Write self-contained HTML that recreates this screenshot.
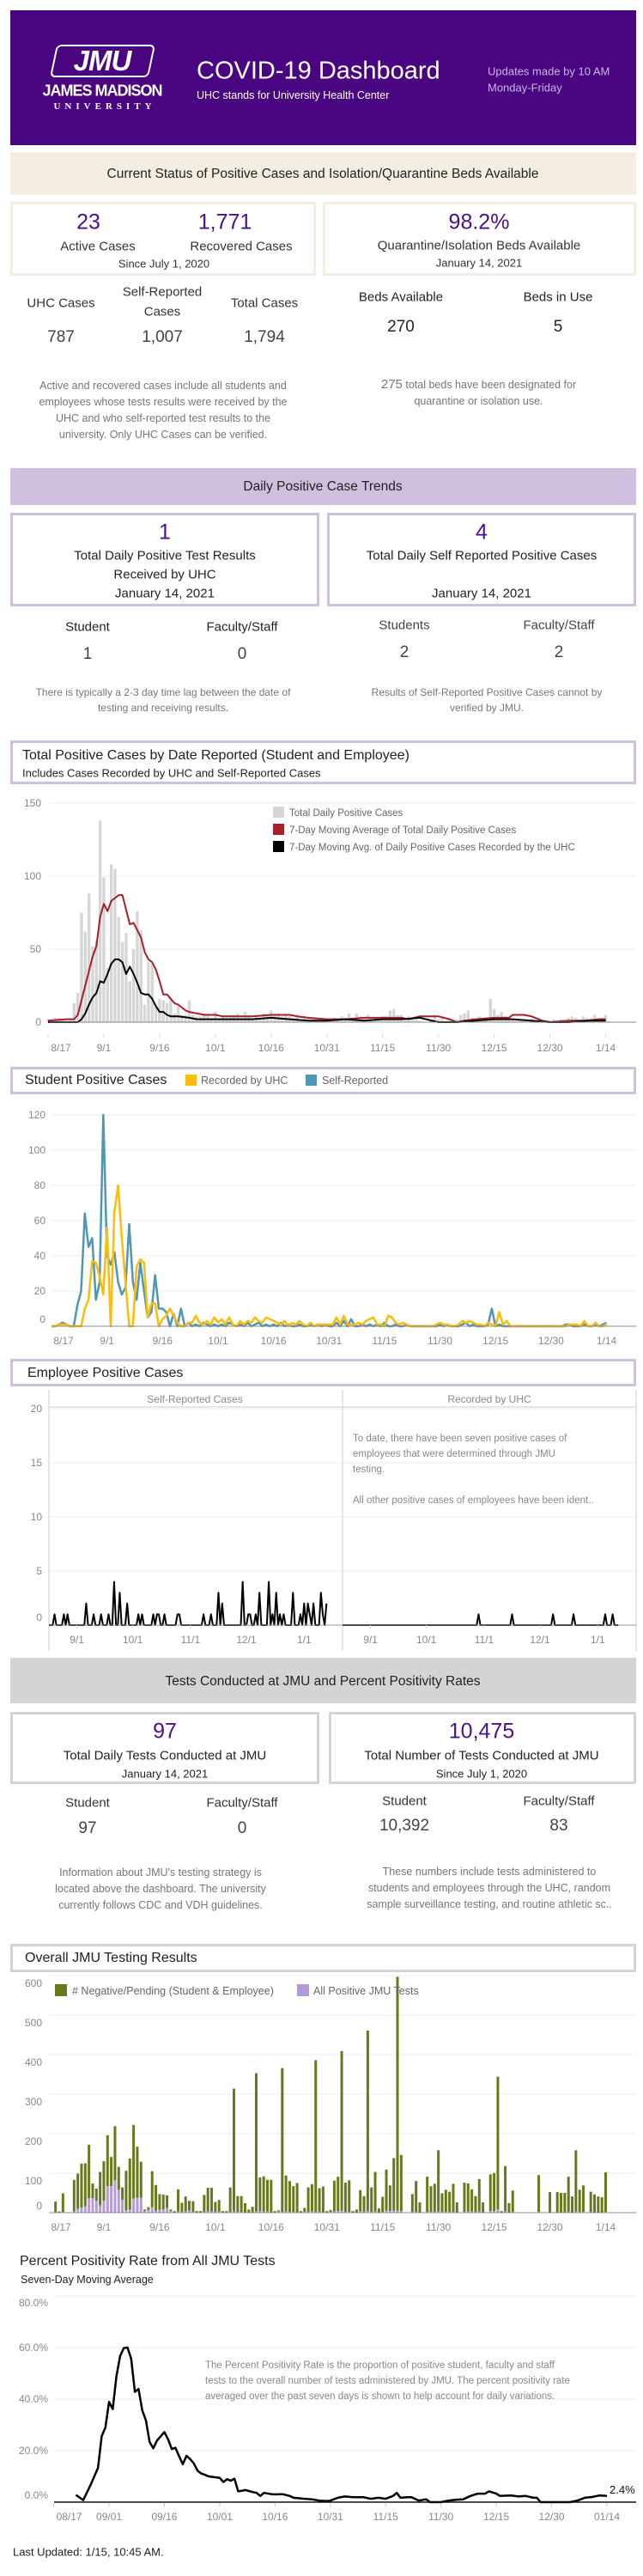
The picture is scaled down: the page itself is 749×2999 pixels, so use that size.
<!DOCTYPE html>
<html><head><meta charset="utf-8">
<style>
*{margin:0;padding:0;box-sizing:border-box}
body{width:749px;height:2999px;position:relative;background:#fff;font-family:"Liberation Sans",sans-serif;color:#333;overflow:hidden}
.c{position:absolute;white-space:nowrap;transform:translate(-50%,-50%)}
.l{position:absolute;white-space:nowrap;transform:translateY(-50%)}
.r{position:absolute;white-space:nowrap;transform:translate(-100%,-50%)}
.box{position:absolute;border:3px solid}
.band{position:absolute;left:12px;width:729px}
.pv{color:#4b0f8c;font-size:25px}
.lab{font-size:15px;color:#333}
.sm{font-size:13px;color:#333}
.val{font-size:19px;color:#444}
.note{font-size:12.5px;color:#777}
.ax{font-size:12px;color:#888}
svg{position:absolute;left:0;overflow:visible}
</style></head><body>

<div style="position:absolute;left:12px;top:12px;width:729px;height:157px;background:#4a0680"></div>
<div style="position:absolute;left:62px;top:52px;width:115px;height:38px;border:2px solid #fff;border-radius:6px;transform:skewX(-12deg)"></div>
<div class="c" style="left:119px;top:71px;color:#fff;font-size:33px;font-weight:bold;font-style:italic;letter-spacing:-1px">JMU</div>
<div class="c" style="left:119px;top:106px;color:#fff;font-size:18px;font-weight:bold;letter-spacing:-1px">JAMES MADISON</div>
<div class="c" style="left:122px;top:124px;color:#fff;font-size:11px;font-family:'Liberation Serif',serif;font-weight:bold;letter-spacing:5px">UNIVERSITY</div>
<div class="l" style="left:229px;top:83px;color:#fff;font-size:29px">COVID-19 Dashboard</div>
<div class="l" style="left:229px;top:111px;color:#fff;font-size:12.5px">UHC stands for University Health Center</div>
<div class="l" style="left:568px;top:83px;color:#c9b5e6;font-size:13px">Updates made by 10 AM</div>
<div class="l" style="left:568px;top:102px;color:#c9b5e6;font-size:13px">Monday-Friday</div>

<div class="band" style="top:177px;height:50px;background:#f3eee1"></div>
<div class="c" style="left:376px;top:203px;font-size:15.5px;color:#222">Current Status of Positive Cases and Isolation/Quarantine Beds Available</div>

<div class="box" style="left:12px;top:235px;width:356px;height:86px;border-color:#f3eee1"></div>
<div class="c pv" style="left:103px;top:259px">23</div>
<div class="c pv" style="left:262px;top:259px">1,771</div>
<div class="c lab" style="left:114px;top:287px">Active Cases</div>
<div class="c lab" style="left:281px;top:287px">Recovered Cases</div>
<div class="c sm" style="left:191px;top:307px">Since July 1, 2020</div>
<div class="box" style="left:376px;top:235px;width:365px;height:86px;border-color:#f3eee1"></div>
<div class="c pv" style="left:558px;top:259px">98.2%</div>
<div class="c lab" style="left:558px;top:286px">Quarantine/Isolation Beds Available</div>
<div class="c sm" style="left:558px;top:306px">January 14, 2021</div>

<div class="c lab" style="left:71px;top:353px">UHC Cases</div>
<div class="c lab" style="left:189px;top:340px">Self-Reported</div>
<div class="c lab" style="left:189px;top:363px">Cases</div>
<div class="c lab" style="left:308px;top:353px">Total Cases</div>
<div class="c val" style="left:71px;top:393px">787</div>
<div class="c val" style="left:189px;top:393px">1,007</div>
<div class="c val" style="left:308px;top:393px">1,794</div>
<div class="c lab" style="left:467px;top:346px;color:#222">Beds Available</div>
<div class="c lab" style="left:650px;top:346px;color:#222">Beds in Use</div>
<div class="c val" style="left:467px;top:381px;color:#222">270</div>
<div class="c val" style="left:650px;top:381px;color:#222">5</div>
<div class="note" style="position:absolute;left:0px;width:380px;top:440px;text-align:center;line-height:19px;white-space:nowrap">Active and recovered cases include all students and<br>employees whose tests results were received by the<br>UHC and who self-reported test results to the<br>university. Only UHC Cases can be verified.</div>
<div class="note" style="position:absolute;left:400px;width:315px;top:438px;text-align:center;line-height:19px;white-space:nowrap"><span style="font-size:15px">275</span> total beds have been designated for<br>quarantine or isolation use.</div>

<div class="band" style="top:545px;height:43px;background:#d0c0e0"></div>
<div class="c" style="left:376px;top:567px;font-size:15.5px;color:#222">Daily Positive Case Trends</div>
<div class="box" style="left:12px;top:597px;width:360px;height:109px;border-color:#d0c0e0"></div>
<div class="c pv" style="left:192px;top:620px">1</div>
<div class="c lab" style="left:192px;top:647px;color:#222">Total Daily Positive Test Results</div>
<div class="c lab" style="left:192px;top:669px;color:#222">Received by UHC</div>
<div class="c lab" style="left:192px;top:691px;color:#222">January 14, 2021</div>
<div class="box" style="left:381px;top:597px;width:360px;height:109px;border-color:#d0c0e0"></div>
<div class="c pv" style="left:561px;top:620px">4</div>
<div class="c lab" style="left:561px;top:647px;color:#222">Total Daily Self Reported Positive Cases</div>
<div class="c lab" style="left:561px;top:691px;color:#222">January 14, 2021</div>
<div class="c lab" style="left:102px;top:730px;color:#222">Student</div>
<div class="c lab" style="left:282px;top:730px;color:#222">Faculty/Staff</div>
<div class="c lab" style="left:471px;top:728px;color:#444">Students</div>
<div class="c lab" style="left:651px;top:728px;color:#444">Faculty/Staff</div>
<div class="c val" style="left:102px;top:762px">1</div>
<div class="c val" style="left:282px;top:762px">0</div>
<div class="c val" style="left:471px;top:760px">2</div>
<div class="c val" style="left:651px;top:760px">2</div>
<div class="c note" style="left:190px;top:806px;font-size:12px">There is typically a 2-3 day time lag between the date of</div>
<div class="c note" style="left:190px;top:824px;font-size:12px">testing and receiving results.</div>
<div class="c note" style="left:567px;top:806px;font-size:12px">Results of Self-Reported Positive Cases cannot by</div>
<div class="c note" style="left:567px;top:824px;font-size:12px">verified by JMU.</div>

<!-- Chart 1 -->
<div class="box" style="left:12px;top:862px;width:729px;height:51px;border-color:#d0c0e0"></div>
<div class="l" style="left:26px;top:880px;font-size:16px;color:#222">Total Positive Cases by Date Reported (Student and Employee)</div>
<div class="l" style="left:26px;top:900px;font-size:13px;color:#222">Includes Cases Recorded by UHC and Self-Reported Cases</div>
<svg id="c1" style="top:920px" width="749" height="320" viewBox="0 920 749 320"></svg>

<!-- Chart 2 -->
<div class="box" style="left:12px;top:1242px;width:729px;height:32px;border-color:#d0c0e0"></div>
<div class="l" style="left:29px;top:1258px;font-size:16px;color:#222">Student Positive Cases</div>
<div style="position:absolute;left:216px;top:1251px;width:13px;height:13px;background:#fbbc0a"></div>
<div class="l" style="left:234px;top:1258px;font-size:12.5px;color:#666">Recorded by UHC</div>
<div style="position:absolute;left:356px;top:1251px;width:13px;height:13px;background:#4f97b5"></div>
<div class="l" style="left:375px;top:1258px;font-size:12.5px;color:#666">Self-Reported</div>
<svg id="c2" style="top:1285px" width="749" height="290" viewBox="0 1285 749 290"></svg>

<!-- Chart 3 -->
<div class="box" style="left:12px;top:1582px;width:729px;height:32px;border-color:#d0c0e0"></div>
<div class="l" style="left:32px;top:1599px;font-size:16px;color:#222">Employee Positive Cases</div>
<div class="c ax" style="left:227px;top:1629px">Self-Reported Cases</div>
<div class="c ax" style="left:570px;top:1629px">Recorded by UHC</div>
<svg id="c3" style="top:1615px" width="749" height="315" viewBox="0 1615 749 315"></svg>
<div class="note" style="position:absolute;left:411px;top:1666px;font-size:11.5px;line-height:18px;color:#888">To date, there have been seven positive cases of<br>employees that were determined through JMU<br>testing.<br><br>All other positive cases of employees have been ident..</div>

<!-- Tests -->
<div class="band" style="top:1930px;height:53px;background:#d4d4d4"></div>
<div class="c" style="left:376px;top:1958px;font-size:15.5px;color:#222">Tests Conducted at JMU and Percent Positivity Rates</div>
<div class="box" style="left:12px;top:1993px;width:360px;height:84px;border-color:#d4d4d4"></div>
<div class="c pv" style="left:192px;top:2016px">97</div>
<div class="c lab" style="left:192px;top:2044px;color:#222">Total Daily Tests Conducted at JMU</div>
<div class="c sm" style="left:192px;top:2065px;color:#222">January 14, 2021</div>
<div class="box" style="left:383px;top:1993px;width:358px;height:84px;border-color:#d4d4d4"></div>
<div class="c pv" style="left:561px;top:2016px">10,475</div>
<div class="c lab" style="left:561px;top:2044px;color:#222">Total Number of Tests Conducted at JMU</div>
<div class="c sm" style="left:561px;top:2065px;color:#222">Since July 1, 2020</div>
<div class="c lab" style="left:102px;top:2099px">Student</div>
<div class="c lab" style="left:282px;top:2099px">Faculty/Staff</div>
<div class="c val" style="left:102px;top:2129px">97</div>
<div class="c val" style="left:282px;top:2129px">0</div>
<div class="c lab" style="left:471px;top:2097px">Student</div>
<div class="c lab" style="left:651px;top:2097px">Faculty/Staff</div>
<div class="c val" style="left:471px;top:2126px">10,392</div>
<div class="c val" style="left:651px;top:2126px">83</div>
<div class="note" style="position:absolute;left:0px;width:374px;top:2171px;text-align:center;line-height:19px;white-space:nowrap">Information about JMU's testing strategy is<br>located above the dashboard. The university<br>currently follows CDC and VDH guidelines.</div>
<div class="c note" style="left:570px;top:2179px">These numbers include tests administered to</div>
<div class="c note" style="left:570px;top:2198px">students and employees through the UHC, random</div>
<div class="c note" style="left:570px;top:2217px">sample surveillance testing, and routine athletic sc..</div>

<!-- Chart 4 -->
<div class="box" style="left:12px;top:2263px;width:729px;height:33px;border-color:#d4d4d4"></div>
<div class="l" style="left:29px;top:2280px;font-size:16px;color:#222">Overall JMU Testing Results</div>
<svg id="c4" style="top:2295px" width="749" height="310" viewBox="0 2295 749 310"></svg>
<div style="position:absolute;left:64px;top:2310px;width:14px;height:14px;background:#667a1c"></div>
<div class="l" style="left:84px;top:2318px;font-size:12.5px;color:#666">#  Negative/Pending (Student &amp; Employee)</div>
<div style="position:absolute;left:346px;top:2310px;width:14px;height:14px;background:#b49ad6"></div>
<div class="l" style="left:365px;top:2318px;font-size:12.5px;color:#666">All Positive JMU Tests</div>

<!-- Chart 5 -->
<div class="l" style="left:23px;top:2633px;font-size:16px;color:#222">Percent Positivity Rate from All JMU Tests</div>
<div class="l" style="left:24px;top:2654px;font-size:12.5px;color:#222">Seven-Day Moving Average</div>
<svg id="c5" style="top:2660px" width="749" height="290" viewBox="0 2660 749 290"></svg>
<div class="note" style="position:absolute;left:239px;top:2745px;font-size:11.5px;line-height:18px;color:#888">The Percent Positivity Rate is the proportion of positive student, faculty and staff<br>tests to the overall number of tests administered by JMU. The percent positivity rate<br>averaged over the past seven days is shown to help account for daily variations.</div>
<div class="l" style="left:15px;top:2971px;font-size:13px;color:#222">Last Updated: 1/15,  10:45 AM.</div>

<script>
// ===== Chart 1 data =====
const c1Days = [0,15,30,45,60,75,90,105,120,135,150];
const c1DateLabels = ['8/17','9/1','9/16','10/1','10/16','10/31','11/15','11/30','12/15','12/30','1/14'];
const c1YTicks = [0,50,100,150];
const c1Totals = [2,2,3,3,2,1,2,13,20,75,62,88,52,56,138,99,37,108,105,72,55,61,28,50,76,63,12,41,40,11,16,15,13,15,6,11,5,5,15,5,4,
4,6,5,3,7,2,4,2,3,5,6,3,7,4,2,5,3,6,4,8,5,6,4,5,4,3,5,2,3,3,2,2,3,1,2,2,3,2,4,3,6,2,6,4,3,
5,3,3,2,4,4,8,9,5,5,2,4,3,2,1,0,0,1,5,2,3,1,2,1,2,5,6,8,3,2,4,2,3,16,9,5,7,4,3,2,1,2,1,0,2,
1,2,0,1,1,2,1,2,1,3,4,3,2,4,3,3,5,2,3,5];
const c1AvgDays = [0,5,7,8,10,12,13,14,15,16,17,19,20,22,23,25,26,27,28,29,30,31,32,33,34,35,36,37,38,40,42,45,47,50,55,60,65,67,70,75,80,85,90,95,97,100,105,108,110,112,115,120,124,125,128,130,133,135,140,145,148,150];
const c1AvgVals = [1,2,2,5,25,45,52,72,81,76,83,87,87,67,68,58,48,43,41,36,28,19,19,16,13,12,10,8,7,6,5,5,4,4,4,5,5,4,3,2,2,3,3,3,2,4,4,2,0,1,2,3,3,5,5,4,1,0,1,1,2,2];
const c1UhcDays = [0,8,9,10,11,12,13,14,15,16,17,18,19,20,21,22,23,24,25,26,27,28,29,30,31,32,33,35,38,40,45,50,55,60,65,70,75,80,85,90,95,100,105,110,115,120,125,130,135,140,145,150];
const c1UhcVals = [0,0,2,6,12,17,20,28,27,33,40,43,43,41,33,38,33,27,20,19,19,16,11,7,7,5,4,4,3,2,2,2,2,3,2,1,1,2,1,2,2,3,0,0,1,2,2,1,0,0,1,1];

// ===== Chart 2 data =====
const c2YTicks = [0,20,40,60,80,100,120];
const c2SelfReported = [0,0,1,2,1,0,0,12,20,64,45,50,15,25,120,40,35,42,25,18,22,58,25,15,36,20,5,8,29,10,10,8,0,7,0,10,
0,2,0,1,0,2,1,0,1,0,1,0,2,1,0,
1,0,2,0,1,2,0,1,0,1,0,2,0,1,0,
0,1,0,0,1,0,1,0,1,0,0,2,0,3,0,
4,0,0,1,0,1,0,1,0,2,0,0,1,0,0,
1,0,0,0,0,0,0,0,0,1,0,1,0,0,0,
1,2,0,1,0,0,0,1,10,0,1,0,0,0,0,
0,0,0,0,0,0,0,0,0,0,0,0,0,1,1,
0,0,0,1,0,0,1,0,1,2];
const c2Uhc = [0,0,1,1,1,0,0,0,0,10,15,37,36,28,18,56,0,65,80,50,25,0,0,34,38,36,5,13,13,0,4,6,10,6,2,0,
0,2,2,6,2,1,3,1,5,2,4,1,5,1,0,
3,1,3,2,5,3,2,5,4,3,2,1,3,0,2,
1,3,1,0,2,0,1,1,1,1,1,5,1,6,1,
1,1,2,1,3,4,5,1,1,0,6,5,2,1,2,
1,0,0,0,0,0,0,0,1,2,1,1,0,0,1,
3,2,3,2,1,1,0,2,1,0,8,1,3,0,0,
0,0,0,0,0,0,0,0,0,0,0,0,0,0,1,
1,1,0,3,0,0,2,0,0,1];

// ===== Chart 3 data =====
const c3YTicks = [0,5,10,15,20];
const c3MonthDays = [15,45,76,106,137];
const c3MonthLabels = ['9/1','10/1','11/1','12/1','1/1'];
const c3SelfDays = [3,8,10,20,24,28,32,35,38,42,48,50,56,58,59,62,69,70,83,87,91,93,104,107,108,111,113,118,120,122,124,126,131,135,137,139,140,142,146,147,149];
const c3SelfVals = [1,1,1,2,1,1,1,4,3,2,1,1,1,1,1,1,1,1,1,1,3,2,4,1,1,1,3,4,1,3,1,1,3,1,2,2,1,2,3,1,2];
const c3SelfLastDay = 149;
const c3UhcDays = [73,91,113,124,141,145];
const c3UhcVals = [1,1,1,1,1,1];
const c3UhcLastDay = 148;

// ===== Chart 4 data =====
const c4YTicks = [0,100,200,300,400,500,600];
const c4Negative = [0,0,27,3,47,0,0,80,89,111,109,135,37,31,85,100,129,74,137,58,32,100,129,186,129,91,4,7,91,65,40,38,32,4,3,56,23,38,25,27,3,3,43,60,60,25,29,3,3,62,
311,40,40,23,7,14,350,85,89,80,82,3,3,364,91,78,65,74,3,10,62,69,384,60,65,3,5,78,87,404,74,80,3,7,54,40,457,62,100,10,38,104,65,133,592,142,0,0,45,78,
25,0,89,65,71,155,47,56,51,71,25,0,74,71,56,40,82,25,0,93,96,336,3,115,23,54,0,0,0,0,0,0,93,0,0,51,0,51,49,49,89,40,155,56,67,0,51,45,40,38,100];
const c4Positive = [0,0,1,0,2,0,0,3,10,13,16,37,37,30,18,30,67,67,82,58,32,6,8,36,38,38,4,7,14,5,7,8,12,4,
1,3,2,3,5,2,1,1,2,3,3,2,3,1,1,
2,3,2,2,1,1,1,3,4,3,3,1,1,3,2,
3,2,2,1,1,2,2,3,2,2,1,1,2,3,4,
5,2,2,1,1,3,2,4,2,3,1,2,5,4,5,
5,4,0,0,2,2,1,0,2,2,2,3,2,2,2,
2,1,0,2,3,3,2,3,1,0,4,4,8,1,3,
1,2,0,0,0,0,0,0,2,0,0,1,0,1,1,
1,2,1,3,2,2,0,2,1,1,1,2];

// ===== Chart 5 data =====
const c5YTicks = [0,20,40,60,80];
const c5TickLabels = ['08/17','09/01','09/16','10/01','10/16','10/31','11/15','11/30','12/15','12/30','01/14'];
const c5Days = [6,8,10,12,13,14,15,16,17,18,19,20,21,22,23,24,25,26,27,28,30,31,32,33,34,35,36,37,38,39,40,41,42,43,45,46,47,48,49,50,51,52,54,55,56,57,59,60,62,64,65,68,70,72,74,75,77,79,81,84,86,88,90,92,93,94,96,97,99,101,102,105,107,109,111,113,115,117,118,120,121,124,126,128,130,131,132,135,140,142,144,146,148,150];
const c5Pct = [2.8,0.8,6.7,13.3,25.6,28.9,38.9,36.1,48.9,56.7,59.8,60,55.6,42.8,43.9,35.6,31.7,23.3,20.9,23.9,27.2,24.4,20.6,21.1,17.8,14.7,18,16.7,15,12.2,11.1,10.6,10,9.8,9.4,7.8,8.9,8.3,9.1,4.2,4.4,4.7,3.9,3.6,2.4,3.6,3.1,3,3.1,2.4,1.7,1.3,1.1,0.6,0.4,0.6,1.7,2.2,1.9,1.9,1.3,1.7,1.3,2.4,3.6,1.7,1.9,1.9,0.6,1.1,0,0,0.6,0.9,1.1,2.4,3.3,3.3,4.2,3.3,2.4,2.6,2.2,2.4,1.7,1.7,0,0,0,0.6,1.7,2,2.6,2.4];
const c5LastLabel = '2.4%';

const NS='http://www.w3.org/2000/svg';
function el(tag, parent, attrs){const e=document.createElementNS(NS,tag);for(const k in attrs)e.setAttribute(k,attrs[k]);parent.appendChild(e);return e;}

// ---------- Chart 1 ----------
(function(){
 const s=document.getElementById('c1');
 const x=d=>56+d*4.33, y=v=>1190-v*1.7;
 c1YTicks.forEach(v=>{
  const g=el('line',s,{x1:57,x2:741,y1:y(v),y2:y(v),stroke:'#eee','stroke-width':1});
  
  
  const t=el('text',s,{x:48,y:y(v)+4,'text-anchor':'end','font-size':12,fill:'#888','font-family':'Liberation Sans'});
  t.textContent=v;
  
  
 });
 c1Totals.forEach((v,d)=>{
  const b=el('rect',s,{x:x(d)-1.7,y:y(v),width:3.4,height:v*1.7,fill:'#d6d6d6'});
  
  
 });
 const line=(ds,vs,col,name)=>{
  const p=el('polyline',s,{points:ds.map((d,i)=>x(d)+','+y(vs[i])).join(' '),fill:'none',stroke:col,'stroke-width':2,'stroke-linejoin':'round'});
  
  
 };
 line(c1AvgDays,c1AvgVals,'#a81e2a','moving-average-total-line');
 line(c1UhcDays,c1UhcVals,'#000','moving-average-uhc-line');
 const ax=el('line',s,{x1:57,x2:741,y1:1190,y2:1190,stroke:'#888','stroke-width':1});
 
 
 c1Days.forEach((d,i)=>{
  const tk=el('line',s,{x1:x(d),x2:x(d),y1:1203,y2:1208,stroke:'#ddd'});
  
  
  const t=el('text',s,{x:i===0?x(d)+15:x(d),y:1224,'text-anchor':'middle','font-size':12,fill:'#888','font-family':'Liberation Sans'});
  t.textContent=c1DateLabels[i];
  
  
 });
 const leg=[['#d6d6d6','Total Daily Positive Cases'],['#a81e2a','7-Day Moving Average of Total Daily Positive Cases'],['#000','7-Day Moving Avg. of Daily Positive Cases Recorded by the UHC']];
 leg.forEach((l,i)=>{
  const r=el('rect',s,{x:318,y:939+i*20,width:13,height:13,fill:l[0]});
  
  
  const t=el('text',s,{x:337,y:950+i*20,'font-size':11.5,fill:'#666','font-family':'Liberation Sans'});
  t.textContent=l[1];
  
  
 });
})();

// ---------- Chart 2 ----------
(function(){
 const s=document.getElementById('c2');
 const x=d=>60+d*4.31, y=v=>1544-v*2.05;
 c2YTicks.forEach(v=>{
  const g=el('line',s,{x1:60,x2:741,y1:y(v),y2:y(v),stroke:'#eee'});
  
  
  const t=el('text',s,{x:53,y:(v===0?y(v)-8:y(v))+4,'text-anchor':'end','font-size':12,fill:'#888','font-family':'Liberation Sans'});
  t.textContent=v;
  
  
 });
 const ln=(arr,col,name)=>{
  const p=el('polyline',s,{points:arr.map((v,d)=>x(d)+','+y(v)).join(' '),fill:'none',stroke:col,'stroke-width':2.5,'stroke-linejoin':'round'});
  
  
 };
 ln(c2SelfReported,'#4f97b5','self-reported-line');
 ln(c2Uhc,'#fbbc0a','recorded-by-uhc-line');
 const ax=el('line',s,{x1:60,x2:741,y1:1544,y2:1544,stroke:'#888'});
 
 
 c1Days.forEach((d,i)=>{
  const t=el('text',s,{x:i===0?x(d)+14:x(d),y:1565,'text-anchor':'middle','font-size':12,fill:'#888','font-family':'Liberation Sans'});
  t.textContent=c1DateLabels[i];
  
  
 });
})();

// ---------- Chart 3 ----------
(function(){
 const s=document.getElementById('c3');
 const y=v=>1892-v*12.6;
 const xl=d=>57+d*2.17, xr=d=>399+d*2.17;
 c3YTicks.forEach(v=>{
  if(v>0){const g=el('line',s,{x1:57,x2:741,y1:y(v),y2:y(v),stroke:'#eee'});
  
  }
  const t=el('text',s,{x:49,y:(v===0?1883:y(v))+4,'text-anchor':'end','font-size':12,fill:'#888','font-family':'Liberation Sans'});
  t.textContent=v;
  
  
 });
 [[57,741,1638,1638]].forEach(a=>{const h=el('line',s,{x1:a[0],x2:a[1],y1:a[2],y2:a[3],stroke:'#ccc'});
  
  });
 [57,399,741].forEach(px=>{const v=el('line',s,{x1:px,x2:px,y1:1618,y2:1922,stroke:'#ccc'});
  
  });
 const series=(days,vals,last,xf,name)=>{
  const pts=[];for(let d=0;d<=last;d++){const i=days.indexOf(d);pts.push(xf(d)+','+y(i>=0?vals[i]:0));}
  const p=el('polyline',s,{points:pts.join(' '),fill:'none',stroke:'#000','stroke-width':2,'stroke-linejoin':'round'});
  
  
 };
 series(c3SelfDays,c3SelfVals,c3SelfLastDay,xl,'self-reported-employee-line');
 series(c3UhcDays,c3UhcVals,c3UhcLastDay,xr,'uhc-employee-line');
 const ax=el('line',s,{x1:57,x2:741,y1:1892,y2:1892,stroke:'#999'});
 
 
 c3MonthDays.forEach((d,i)=>{[xl,xr].forEach(xf=>{
  const tk=el('line',s,{x1:xf(d),x2:xf(d),y1:1892,y2:1897,stroke:'#ddd'});
  
  
  const t=el('text',s,{x:xf(d),y:1913,'text-anchor':'middle','font-size':12,fill:'#888','font-family':'Liberation Sans'});
  t.textContent=c3MonthLabels[i];
  
  
 });});
})();

// ---------- Chart 4 ----------
(function(){
 const s=document.getElementById('c4');
 const x=d=>56+d*4.33, y=v=>2576-v*0.46;
 c4YTicks.forEach(v=>{
  const g=el('line',s,{x1:57,x2:741,y1:y(v),y2:y(v),stroke:'#eee'});
  
  
  const t=el('text',s,{x:49,y:(v===0?2568:y(v)+9)+4,'text-anchor':'end','font-size':12,fill:'#888','font-family':'Liberation Sans'});
  t.textContent=v;
  
  
 });
 c4Negative.forEach((v,d)=>{
  const p=c4Positive[d]||0;
  if(p>0){const b=el('rect',s,{x:x(d)-1.5,y:y(p),width:3,height:p*0.46,fill:'#b49ad6'});
  
  }
  if(v>0){const g=el('rect',s,{x:x(d)-1.5,y:y(v+p),width:3,height:v*0.46,fill:'#667a1c'});
  
  }
 });
 const ax=el('line',s,{x1:57,x2:741,y1:2576,y2:2576,stroke:'#888'});
 
 
 c1Days.forEach((d,i)=>{
  const t=el('text',s,{x:i===0?x(d)+15:x(d),y:2597,'text-anchor':'middle','font-size':12,fill:'#888','font-family':'Liberation Sans'});
  t.textContent=c1DateLabels[i];
  
  
 });
})();

// ---------- Chart 5 ----------
(function(){
 const s=document.getElementById('c5');
 const x=d=>62.6+d*4.296, y=p=>2913-p*3;
 c5YTicks.forEach(v=>{
  if(v>0){const g=el('line',s,{x1:63,x2:741,y1:y(v),y2:y(v),stroke:'#eee'});
  
  }
  const ty=v===0?2905:(v===80?2681:y(v));
  const t=el('text',s,{x:56,y:ty+4,'text-anchor':'end','font-size':12,fill:'#888','font-family':'Liberation Sans'});
  t.textContent=v.toFixed(1)+'%';
  
  
 });
 const p=el('polyline',s,{points:c5Days.map((d,i)=>x(d)+','+y(c5Pct[i])).join(' '),fill:'none',stroke:'#000','stroke-width':2.5,'stroke-linejoin':'round'});
 
 
 const ax=el('line',s,{x1:63,x2:741,y1:2913,y2:2913,stroke:'#111','stroke-width':1.5});
 
 
 c1Days.forEach((d,i)=>{
  const tk=el('line',s,{x1:x(d),x2:x(d),y1:2914,y2:2919,stroke:'#ccc'});
  
  
  const t=el('text',s,{x:i===0?x(d)+18:x(d),y:2934,'text-anchor':'middle','font-size':12,fill:'#888','font-family':'Liberation Sans'});
  t.textContent=c5TickLabels[i];
  
  
 });
 const lastI=c5Days.length-1;
 const lt=el('text',s,{x:x(c5Days[lastI])+3,y:y(c5Pct[lastI])-3,'font-size':13,fill:'#111','font-family':'Liberation Sans'});
 lt.textContent=c5LastLabel;
 
 
})();
</script>
</body></html>
